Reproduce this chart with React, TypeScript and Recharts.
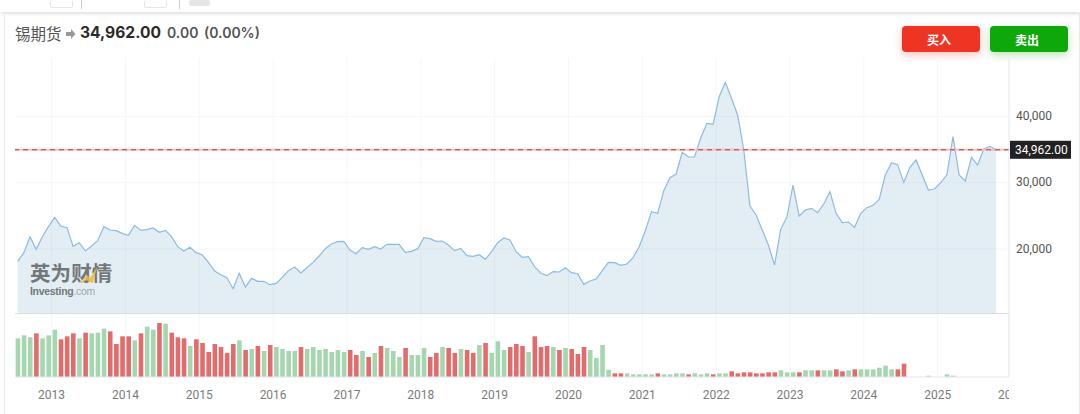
import React from "react";
import { ComposedChart, Area, Bar, Cell, XAxis, YAxis, CartesianGrid, ReferenceLine } from "recharts";

const prices = [18140,19446,21860,19950,21860,23367,24775,23468,23217,20400,20954,19697,20452,21256,23367,22865,22764,22362,22060,23568,22814,22915,23166,22513,22814,21860,20351,19697,20251,19446,19095,17988,16681,16128,15676,14017,16330,14268,15576,15124,15124,14620,14820,15726,16732,17285,16380,17184,17988,18944,20050,20753,21105,21155,19848,19296,20200,19950,20350,20000,20700,20700,20700,19447,19650,20050,21709,21558,21156,21206,20603,19748,20100,18994,18893,19145,18441,19597,20954,21658,21357,19597,18743,18844,17335,16380,15978,16581,16531,17184,16430,16279,14671,15174,15475,16732,17988,17938,17536,17737,18692,20351,22762,25628,25378,28795,30756,31309,34576,33873,33873,36738,38950,38799,42971,45133,42720,40206,34928,26483,25126,22864,20602,17585,22964,24824,29650,24975,25880,26131,25478,26785,28645,25377,23970,24070,23266,25377,26232,26584,27489,31158,33018,32717,30052,32315,33421,31158,28896,29047,30002,31158,36940,31158,30254,33823,32667,35080,35482,34962];
const volumes = [116,125,119,131,116,125,142,113,122,131,116,133,131,133,145,137,99,122,122,110,131,151,142,162,160,133,119,116,93,113,102,75,99,90,72,99,110,81,84,93,78,96,90,84,78,78,90,84,90,81,84,75,81,75,81,66,78,60,72,93,87,78,60,87,66,66,87,60,72,90,87,72,84,81,72,96,102,72,107,81,90,99,93,75,122,90,93,90,81,87,84,69,90,81,57,96,22,11,11,11,8,8,8,8,11,8,8,11,11,8,11,8,11,8,11,11,17,11,14,14,11,11,14,14,20,14,14,14,20,20,20,20,20,23,17,20,23,23,23,23,28,34,23,23,40,0,0,0,4,0,0,8,4,0,0,0,0,0,0,0];
const directions = [
  "gggrggg", "rrrgrggg", "rrrrgrgg",
  "rgrrrgrrrrrrrgrgrgrggggrgggggggrr",
  "grgrgggrgggrrgrrgrrgrgggrrrgrrrgrgrrrggggrrgggggrggggrgggrg",
  "g", "rrrrrrrr", "ggg", "r", "gg", "r", "gg", "rr", "g", "r", "gggggg", "rr", "ggg", "r", "ggggggggggg",
].join("");
const yearTicks = [5.51,17.51,29.51,41.51,53.51,65.51,77.51,89.51,101.51,113.51,125.51,137.51,149.51,161.1];
const yearLabels = ["2013","2014","2015","2016","2017","2018","2019","2020","2021","2022","2023","2024","2025","2026"];
const lastPrice = 34962;
const priceTicks = [20000,30000,lastPrice,40000];
const DOMAIN: [number, number] = [-0.44, 161.1];

const greens = "#a5d6b0";
const reds = "#e36b6b";
const priceData = prices.map((price, t) => ({ t, price }));
const volumeData = volumes.map((volume, t) => ({ t, volume }));
const CJK = '"Noto Sans CJK SC", sans-serif';

const PriceTick = (p: any) => {
  const v = p.payload.value;
  if (v === lastPrice) {
    return (
      <g>
        <rect x={p.x - 7} y={p.y - 9} width={61} height={18} fill="#222" />
        <text x={p.x - 2} y={p.y + 4.5} fill="#fff" fontSize={12} fontFamily="Roboto">34,962.00</text>
      </g>
    );
  }
  return <text x={p.x - 1} y={p.y + 3.5} fill="#555" fontSize={12} fontFamily="Roboto">{v.toLocaleString("en-US")}</text>;
};

const YearTick = (p: any) => {
  const i = yearTicks.indexOf(p.payload.value);
  const last = i === yearTicks.length - 1;
  return (
    <g>
      {last && <clipPath id="lastYearClip"><rect x={p.x - 14} y={p.y} width={14} height={24} /></clipPath>}
      <text x={last ? p.x + 2.5 : p.x} y={p.y + 14} textAnchor="middle" fill="#7b7b7b" fontSize={12} fontFamily="Roboto" clipPath={last ? "url(#lastYearClip)" : undefined}>{yearLabels[i]}</text>
    </g>
  );
};

const abs = (left: number, top: number, extra: React.CSSProperties = {}): React.CSSProperties => ({ position: "absolute", left, top, ...extra });

export default function App() {
  return (
    <div style={abs(0, 0, { width: 1080, height: 414, background: "#fff", overflow: "hidden" })}>
      {/* top strip */}
      <div style={abs(0, 0, { width: 1080, height: 12, background: "#fff", boxShadow: "0 1px 4px rgba(0,0,0,0.16)" })} />
      <div style={abs(50, 0, { width: 21, height: 7, border: "1px solid #e5e5e5", borderTop: "none", borderRadius: 2 })} />
      <div style={abs(144, 0, { width: 21, height: 7, border: "1px solid #e5e5e5", borderTop: "none", borderRadius: 2 })} />
      <div style={abs(189, 0, { width: 21, height: 6, background: "#e6e6e6", borderRadius: 2 })} />
      <div style={abs(81, 0, { width: 1, height: 9, background: "#ccc" })} />
      <div style={abs(179, 0, { width: 1, height: 9, background: "#ccc" })} />
      {/* card frame */}
      <div style={abs(4, 13, { width: 1074, height: 401, border: "1px solid #e8e9ec", borderBottom: "none" })} />

      {/* header */}
      <div style={abs(15, 23, { fontFamily: CJK, fontSize: 15.5, lineHeight: "20px", color: "#555" })}>锡期货</div>
      <svg style={abs(66, 29)} width={10} height={10}><path d="M0 3H5V0L9.5 5L5 10V7H0Z" fill="#999" /></svg>
      <div style={abs(80, 23, { fontFamily: "Inter", fontWeight: 700, fontSize: 15.6, lineHeight: "20px", color: "#2b2b2b" })}>34,962.00</div>
      <div style={abs(167, 23, { fontFamily: "Inter", fontWeight: 600, fontSize: 14, lineHeight: "20px", color: "#555" })}>0.00</div>
      <div style={abs(204, 23, { fontFamily: "Inter", fontWeight: 600, fontSize: 14, lineHeight: "20px", color: "#555" })}>(0.00%)</div>

      {/* buttons */}
      <div style={abs(902, 26, { width: 78, height: 26, background: "#ee3524", borderRadius: 4, boxShadow: "0 3px 8px rgba(238,53,36,0.3)", color: "#fff", fontFamily: CJK, fontWeight: 700, fontSize: 12, lineHeight: "27px", textAlign: "center", textIndent: -4 })}>买入</div>
      <div style={abs(990, 26, { width: 78, height: 26, background: "#0fa80a", borderRadius: 4, boxShadow: "0 3px 8px rgba(15,168,10,0.3)", color: "#fff", fontFamily: CJK, fontWeight: 700, fontSize: 12, lineHeight: "27px", textAlign: "center", textIndent: -4 })}>卖出</div>

      {/* price panel */}
      <div style={abs(0, 0)}>
        <ComposedChart width={1080} height={314} data={priceData} margin={{ top: 58, right: 21, bottom: 1, left: 15 }}>
          <CartesianGrid stroke="#f5f6f8" strokeWidth={1} syncWithTicks />
          <XAxis dataKey="t" type="number" domain={DOMAIN} ticks={yearTicks.slice(0, -1)} hide allowDataOverflow />
          <YAxis orientation="right" width={50} domain={[10349, 48803]} ticks={priceTicks} interval={0} tick={PriceTick} tickLine={false} axisLine={{ stroke: "#e4e6ec" }} allowDataOverflow />
          <Area dataKey="price" type="linear" stroke="#8dbbdf" strokeWidth={1.2} fill="#4f93bd" fillOpacity={0.16} isAnimationActive={false} dot={false} activeDot={false} />
          <ReferenceLine y={lastPrice} stroke="#fbbcbc" strokeWidth={2} />
          <ReferenceLine y={lastPrice} stroke="#9a4a4a" strokeWidth={1} strokeDasharray="5 4" />
        </ComposedChart>
      </div>

      {/* watermark */}
      <div style={abs(30, 263, { fontFamily: '"Liberation Sans", "Noto Sans CJK SC"', fontWeight: 700, fontSize: 20.5, lineHeight: "22px", letterSpacing: 0.1, color: "#74777a", whiteSpace: "nowrap" })}>英为财情</div>
      <svg style={abs(78, 265)} width={22} height={20}><path d="M2 18L9 10L12 13L19 2L15 18L11 17L8 14L5 18Z" fill="#f2b93b" opacity={0.85} /></svg>
      <div style={abs(30, 286, { fontFamily: '"Liberation Sans"', fontSize: 10.5, lineHeight: "10px", fontWeight: 700, color: "#74777a", letterSpacing: -0.3, whiteSpace: "nowrap" })}>Investing<span style={{ fontWeight: 400, color: "#a2a5a8" }}>.com</span></div>

      {/* volume panel */}
      <div style={abs(0, 313)}>
        <ComposedChart width={1080} height={101} data={volumeData} margin={{ top: 0, right: 21, bottom: 0, left: 15 }}>
          <CartesianGrid stroke="#f5f6f8" strokeWidth={1} horizontal={false} syncWithTicks />
          <XAxis dataKey="t" type="number" domain={DOMAIN} ticks={yearTicks} interval={0} height={37} tick={YearTick} tickLine={false} axisLine={{ stroke: "#e4e6ec" }} allowDataOverflow />
          <YAxis orientation="right" width={50} domain={[0, 192]} tick={false} tickLine={false} axisLine={{ stroke: "#e4e6ec" }} allowDataOverflow />
          <ReferenceLine y={192} stroke="#cfd2d6" strokeWidth={1.5} />
          <Bar dataKey="volume" barSize={4.6} isAnimationActive={false}>
            {volumes.map((_, i) => (
              <Cell key={i} fill={directions[i] === "g" ? greens : reds} fillOpacity={i === 148 ? 0.45 : 1} />
            ))}
          </Bar>
        </ComposedChart>
      </div>
    </div>
  );
}
